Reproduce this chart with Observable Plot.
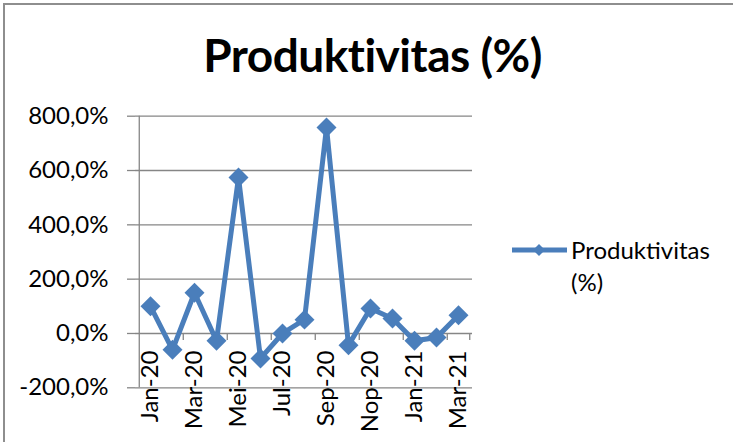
<!DOCTYPE html>
<html>
<head>
<meta charset="utf-8">
<script src="https://cdn.jsdelivr.net/npm/d3@7"></script>
<script src="https://cdn.jsdelivr.net/npm/@observablehq/plot@0.6"></script>
<style>
  html, body { margin: 0; padding: 0; background: #fff; }
  #wrap { position: relative; width: 733px; height: 442px; overflow: hidden; font-family: Lato, "Open Sans", sans-serif; }
  #box { position: absolute; left: 3px; top: 3px; width: 900px; height: 600px; border-left: 2px solid #8e8e8e; border-top: 2px solid #8e8e8e; }
  #title { position: absolute; left: 0; width: 745px; top: 27px; text-align: center; font-weight: 700; font-size: 46px; line-height: 56px; color: #000; letter-spacing: -0.5px; }
  #legend { position: absolute; left: 511px; top: 234px; }
  #legend svg { position: absolute; left: 0; top: 0; }
  #legend .txt { position: absolute; left: 60px; top: 0px; font-size: 24px; line-height: 32px; color: #000; white-space: nowrap; }
  #chart { position: absolute; left: 0; top: 0; }
</style>
</head>
<body>
<div id="wrap">
  <div id="box"></div>
  <div id="chart"></div>
  <div id="title">Produktivitas (%)</div>
  <div id="legend">
    <svg width="60" height="32"><line x1="1" y1="16" x2="56" y2="16" stroke="#4a7ebb" stroke-width="5"/><path d="M28,10 L34,16 L28,22 L22,16 Z" fill="#4a7ebb"/></svg>
    <div class="txt">Produktivitas<br>(%)</div>
  </div>
</div>
<script>
const months = ["Jan-20","Feb-20","Mar-20","Apr-20","Mei-20","Jun-20","Jul-20","Agu-20","Sep-20","Okt-20","Nop-20","Des-20","Jan-21","Feb-21","Mar-21"];
const values = [100, -60, 150, -27, 574, -92, 0, 51, 758, -43, 92, 55, -27, -15, 67];
const yTicks = [-200, 0, 200, 400, 600, 800];
const shownLabels = months.filter((d, i) => i % 2 === 0);

const data = months.map((m, i) => ({month: m, value: values[i]}));

const W = 733, H = 442;
const mL = 135, mR = 261, mT = 115.7, mB = 54.7;
const step = (W - mL - mR) / months.length;
const blue = "#4a7ebb";
const grey = "#868686";
const fmt = d => d.toFixed(1).replace(".", ",") + "%";

const plot = Plot.plot({
  width: W,
  height: H,
  marginLeft: mL,
  marginRight: mR,
  marginTop: mT,
  marginBottom: mB,
  style: {fontFamily: "Lato, 'Open Sans', sans-serif", background: "transparent", color: "#000"},
  x: {type: "point", domain: months, padding: 0.5, axis: null},
  y: {domain: [-200, 800], axis: null},
  marks: [
    Plot.ruleY(yTicks, {stroke: grey, strokeWidth: 1.3}),
    Plot.axisY({ticks: yTicks, tickSize: 8, tickPadding: 19, tickFormat: fmt, fontSize: 24, stroke: grey, strokeWidth: 1.3, fill: "#000", label: null}),
    Plot.ruleX([months[0]], {stroke: grey, strokeWidth: 1.3, dx: -step / 2}),
    Plot.ruleX(shownLabels.slice(1), {x: d => d, y1: 0, y2: 0, insetBottom: -7, stroke: grey, strokeWidth: 1.3, dx: -step / 2}),
    Plot.ruleX([months[months.length - 1]], {x: d => d, y1: 0, y2: 0, insetBottom: -7, stroke: grey, strokeWidth: 1.3, dx: step / 2}),
    Plot.text(shownLabels, {x: d => d, y: 0, text: d => d, rotate: -90, textAnchor: "end", dy: 17, fontSize: 24, fill: "#000"}),
    Plot.line(data, {x: "month", y: "value", stroke: blue, strokeWidth: 5, strokeLinejoin: "miter", strokeMiterlimit: 2}),
    Plot.dot(data, {x: "month", y: "value", symbol: "diamond2", r: 9, fill: blue, stroke: null})
  ]
});
document.getElementById("chart").appendChild(plot);
</script>
</body>
</html>
